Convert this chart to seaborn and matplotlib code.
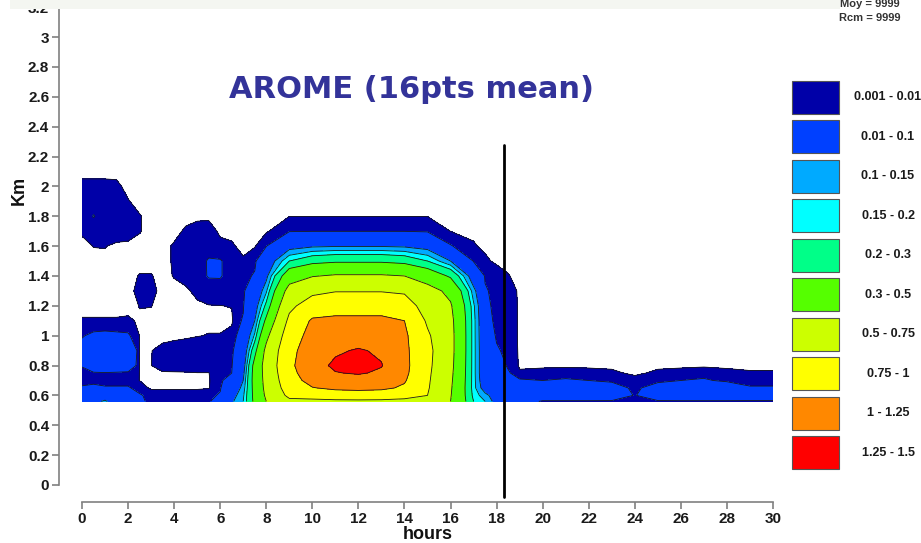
import numpy as np
import matplotlib
matplotlib.use("Agg")
import matplotlib.pyplot as plt
from matplotlib.patches import Rectangle
import seaborn as sns

# Time axis (hours) and height levels (km, top to bottom) of the model grid
hours = [0, 0.5, 1, 1.5, 2, 2.5, 3, 3.5, 4, 4.5, 5, 5.5, 6, 6.5, 7, 7.5, 8,
         9, 10, 11, 12, 13, 14, 15, 16, 17, 17.5, 18, 18.5,
         19, 20, 21, 22, 23, 24, 25, 26, 27, 28, 29, 30]
heights_km = [2.1, 2.0, 1.9, 1.8, 1.7, 1.6, 1.5, 1.4, 1.3, 1.2, 1.1, 1.0,
              0.9, 0.8, 0.75, 0.7, 0.65, 0.6, 0.56]

# Liquid water content, one vertical profile (top -> bottom) per hour
lwc_profiles = [
    [0, 0.002, 0.005, 0.005, 0.0015, 0, 0, 0, 0, 0, 0.0013, 0.009, 0.015, 0.011, 0.006, 0.005, 0.012, 0.04, 0.05],
    [0, 0.002, 0.006, 0.0105, 0.005, 0.0011, 0, 0, 0, 0, 0.0013, 0.013, 0.04, 0.035, 0.007, 0.005, 0.015, 0.05, 0.08],
    [0, 0.002, 0.006, 0.006, 0.005, 0.0012, 0, 0, 0, 0, 0.0013, 0.014, 0.045, 0.04, 0.008, 0.004, 0.012, 0.06, 0.11],
    [0, 0.0018, 0.005, 0.005, 0.004, 0, 0, 0, 0, 0, 0.0013, 0.013, 0.045, 0.035, 0.007, 0.004, 0.012, 0.05, 0.06],
    [0, 0, 0.0012, 0.004, 0.003, 0, 0, 0, 0, 0, 0.0015, 0.012, 0.04, 0.03, 0.006, 0.004, 0.012, 0.04, 0.04],
    [0, 0, 0, 0.0012, 0.0012, 0, 0, 0.0012, 0.002, 0.0011, 0.0006, 0.0009, 0.0009, 0.0009, 0.0009, 0.0009, 0.004, 0.012, 0.015],
    [0, 0, 0, 0, 0, 0, 0, 0.0012, 0.002, 0.0011, 0, 0, 0.0009, 0.0009, 0, 0, 0, 0.005, 0.005],
    [0, 0, 0, 0, 0, 0, 0, 0, 0, 0, 0, 0, 0.002, 0.005, 0, 0, 0, 0.005, 0.005],
    [0, 0, 0, 0, 0, 0.0014, 0.0014, 0.0012, 0, 0, 0, 0, 0.003, 0.005, 0.0002, 0, 0, 0.005, 0.005],
    [0, 0, 0, 0, 0.0015, 0.005, 0.005, 0.003, 0, 0, 0, 0.0002, 0.004, 0.005, 0.0004, 0, 0, 0.005, 0.005],
    [0, 0, 0, 0, 0.003, 0.006, 0.006, 0.005, 0.0025, 0, 0, 0.0008, 0.004, 0.005, 0.0008, 0, 0, 0.005, 0.006],
    [0, 0, 0, 0, 0.0035, 0.006, 0.011, 0.011, 0.004, 0.0008, 0, 0.0012, 0.004, 0.005, 0.0008, 0.0003, 0.0005, 0.006, 0.008],
    [0, 0, 0, 0, 0, 0.0025, 0.011, 0.011, 0.005, 0.0009, 0, 0.0012, 0.004, 0.005, 0.006, 0.007, 0.008, 0.012, 0.02],
    [0, 0, 0, 0, 0, 0.0015, 0.005, 0.005, 0.004, 0.0012, 0, 0.003, 0.006, 0.008, 0.01, 0.02, 0.04, 0.07, 0.09],
    [0, 0, 0, 0, 0, 0, 0.0015, 0.005, 0.007, 0.008, 0.012, 0.02, 0.035, 0.06, 0.08, 0.1, 0.12, 0.14, 0.15],
    [0, 0, 0, 0, 0, 0.0005, 0.006, 0.012, 0.03, 0.06, 0.1, 0.16, 0.26, 0.35, 0.36, 0.36, 0.35, 0.34, 0.33],
    [0, 0, 0, 0, 0, 0.009, 0.04, 0.08, 0.14, 0.22, 0.33, 0.45, 0.55, 0.58, 0.57, 0.56, 0.55, 0.53, 0.5],
    [0, 0, 0, 0.0009, 0.008, 0.07, 0.2, 0.4, 0.58, 0.7, 0.8, 0.88, 0.93, 0.95, 0.93, 0.9, 0.86, 0.8, 0.7],
    [0, 0, 0, 0.0008, 0.009, 0.09, 0.26, 0.49, 0.7, 0.86, 1.03, 1.08, 1.13, 1.16, 1.13, 1.08, 0.99, 0.86, 0.68],
    [0, 0, 0, 0.0008, 0.009, 0.095, 0.28, 0.52, 0.74, 0.9, 1.05, 1.12, 1.22, 1.29, 1.24, 1.15, 1.04, 0.88, 0.7],
    [0, 0, 0, 0.0008, 0.009, 0.095, 0.28, 0.52, 0.74, 0.9, 1.05, 1.14, 1.27, 1.33, 1.27, 1.16, 1.05, 0.9, 0.7],
    [0, 0, 0, 0.0008, 0.009, 0.095, 0.28, 0.52, 0.74, 0.9, 1.05, 1.12, 1.22, 1.26, 1.22, 1.13, 1.04, 0.88, 0.7],
    [0, 0, 0, 0.0008, 0.009, 0.09, 0.26, 0.5, 0.72, 0.86, 1.0, 1.04, 1.05, 1.06, 1.05, 1.02, 0.97, 0.84, 0.68],
    [0, 0, 0, 0.0009, 0.007, 0.07, 0.2, 0.4, 0.58, 0.65, 0.72, 0.78, 0.81, 0.8, 0.79, 0.78, 0.77, 0.75, 0.7],
    [0, 0, 0, 0, 0.0009, 0.011, 0.1, 0.28, 0.45, 0.52, 0.55, 0.56, 0.56, 0.55, 0.54, 0.53, 0.52, 0.51, 0.5],
    [0, 0, 0, 0, 0, 0.0015, 0.008, 0.05, 0.12, 0.16, 0.17, 0.17, 0.17, 0.17, 0.17, 0.17, 0.17, 0.18, 0.2],
    [0, 0, 0, 0, 0, 0, 0.002, 0.008, 0.012, 0.015, 0.02, 0.025, 0.03, 0.03, 0.03, 0.04, 0.06, 0.12, 0.15],
    [0, 0, 0, 0, 0, 0, 0, 0.004, 0.005, 0.005, 0.005, 0.008, 0.012, 0.02, 0.03, 0.04, 0.05, 0.06, 0.07],
    [0, 0, 0, 0, 0, 0, 0, 0.0012, 0.004, 0.005, 0.005, 0.005, 0.006, 0.008, 0.012, 0.02, 0.035, 0.04, 0.03],
    [0, 0, 0, 0, 0, 0, 0, 0, 0, 0, 0, 0, 0, 0, 0.002, 0.012, 0.03, 0.04, 0.03],
    [0, 0, 0, 0, 0, 0, 0, 0, 0, 0, 0, 0, 0, 0, 0.003, 0.01, 0.03, 0.04, 0.006],
    [0, 0, 0, 0, 0, 0, 0, 0, 0, 0, 0, 0, 0, 0, 0.004, 0.012, 0.03, 0.04, 0.006],
    [0, 0, 0, 0, 0, 0, 0, 0, 0, 0, 0, 0, 0, 0, 0.003, 0.01, 0.03, 0.04, 0.006],
    [0, 0, 0, 0, 0, 0, 0, 0, 0, 0, 0, 0, 0, 0, 0.002, 0.007, 0.02, 0.035, 0.006],
    [0, 0, 0, 0, 0, 0, 0, 0, 0, 0, 0, 0, 0, 0, 0, 0.003, 0.006, 0.008, 0.006],
    [0, 0, 0, 0, 0, 0, 0, 0, 0, 0, 0, 0, 0, 0, 0.002, 0.006, 0.02, 0.035, 0.006],
    [0, 0, 0, 0, 0, 0, 0, 0, 0, 0, 0, 0, 0, 0, 0.003, 0.01, 0.03, 0.04, 0.006],
    [0, 0, 0, 0, 0, 0, 0, 0, 0, 0, 0, 0, 0, 0, 0.005, 0.012, 0.035, 0.04, 0.006],
    [0, 0, 0, 0, 0, 0, 0, 0, 0, 0, 0, 0, 0, 0, 0.0025, 0.007, 0.025, 0.04, 0.006],
    [0, 0, 0, 0, 0, 0, 0, 0, 0, 0, 0, 0, 0, 0, 0.0015, 0.004, 0.012, 0.035, 0.006],
    [0, 0, 0, 0, 0, 0, 0, 0, 0, 0, 0, 0, 0, 0, 0.0015, 0.004, 0.012, 0.035, 0.006],
]

# Contour classes
levels = [0.001, 0.01, 0.1, 0.15, 0.2, 0.3, 0.5, 0.75, 1.0, 1.25, 1.5]
level_labels = ["0.001 - 0.01", "0.01 - 0.1", "0.1 - 0.15", "0.15 - 0.2", "0.2 - 0.3",
                "0.3 - 0.5", "0.5 - 0.75", "0.75 - 1", "1 - 1.25", "1.25 - 1.5"]
level_colors = ["#0000A8", "#0040FF", "#00AAFF", "#00FFFF", "#00FF88",
                "#55FF00", "#CCFF00", "#FFFF00", "#FF8800", "#FF0000"]

x_ticks = list(range(0, 31, 2))
y_ticks = [0, 0.2, 0.4, 0.6, 0.8, 1, 1.2, 1.4, 1.6, 1.8, 2, 2.2, 2.4, 2.6, 2.8, 3, 3.2]
marker_hour = 18.3

sns.set_theme(style="ticks")
plt.rcParams["font.family"] = ["Liberation Sans", "DejaVu Sans"]

W, H = 921, 543
fig = plt.figure(figsize=(W / 100, H / 100), dpi=100)
ax = fig.add_axes([82 / W, 58 / H, 691 / W, 477.8 / H])

Z = np.array(lwc_profiles).T[::-1]
Y = np.array(heights_km)[::-1]
ax.contourf(hours, Y, Z, levels=levels, colors=level_colors)
ax.contour(hours, Y, Z, levels=levels, colors="#1a1a1a", linewidths=0.6)

ax.axvline(marker_hour, ymin=-0.025, ymax=0.712, color="black", lw=2, clip_on=False)

ax.set_xlim(0, 30)
ax.set_ylim(0, 3.2)
ax.set_xticks(x_ticks)
ax.set_xticklabels([str(t) for t in x_ticks])
ax.set_yticks(y_ticks)
ax.set_yticklabels([f"{t:g}" for t in y_ticks])
sns.despine(ax=ax, offset={"left": 16.6, "bottom": 12.2})
for side in ("left", "bottom"):
    ax.spines[side].set_color("#808080")
    ax.spines[side].set_linewidth(1.2)
ax.tick_params(direction="out", length=5, width=1.2, color="#808080",
               labelsize=11, pad=2, labelcolor="#1a1a1a")
for lbl in ax.get_xticklabels() + ax.get_yticklabels():
    lbl.set_fontweight("bold")

ax.set_xlabel("hours", fontsize=13, fontweight="bold", labelpad=0, color="#111111")
ax.set_ylabel("Km", fontsize=13, fontweight="bold", color="#111111")
ax.yaxis.set_label_coords(-0.078, 0.617)

fig.text(411 / W, 1 - 90 / H, "AROME (16pts mean)", ha="center", va="center",
         fontsize=22, fontweight="bold", color="#333399", family="DejaVu Sans")

# Colour key
for i, (lab, col) in enumerate(zip(level_labels, level_colors)):
    top = 81 + i * 39.45
    fig.add_artist(Rectangle((792 / W, 1 - (top + 33) / H), 47 / W, 33 / H,
                             transform=fig.transFigure, facecolor=col,
                             edgecolor="#555555", lw=0.8))
    fig.text(888 / W, 1 - (top + 16.5) / H, lab, ha="center", va="center",
             fontsize=9, fontweight="bold", color="#1a1a1a")

# Header strip with run statistics
fig.add_artist(Rectangle((10 / W, 1 - 9 / H), 830 / W, 9 / H, transform=fig.transFigure,
                         facecolor="#f4f6f1", edgecolor="none", zorder=5))
fig.text(870 / W, 1 - 4 / H, "Moy = 9999", ha="center", va="center",
         fontsize=8, fontweight="bold", color="#333333")
fig.text(870 / W, 1 - 18 / H, "Rcm = 9999", ha="center", va="center",
         fontsize=8, fontweight="bold", color="#333333")

fig.savefig("out.png", dpi=100, facecolor="white")
